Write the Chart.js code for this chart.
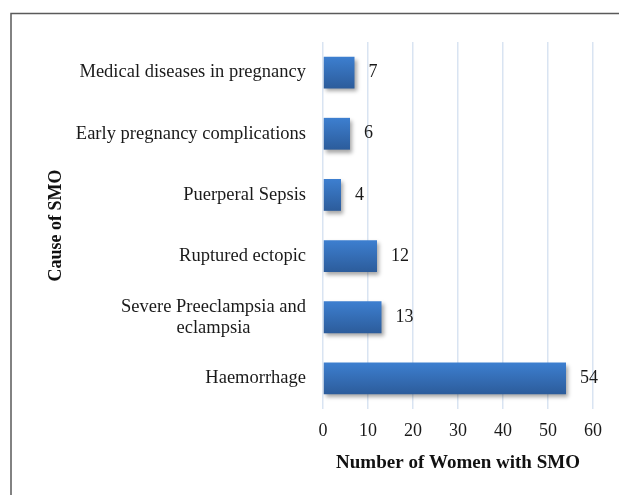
<!DOCTYPE html>
<html>
<head>
<meta charset="utf-8">
<script src="https://cdn.jsdelivr.net/npm/chart.js@4.4.1/dist/chart.umd.min.js"></script>
<style>
  html, body { margin: 0; padding: 0; background: #ffffff; }
  #wrap { position: relative; width: 619px; height: 495px; }
</style>
</head>
<body>
<div id="wrap"><canvas id="c" width="619" height="495"></canvas></div>
<script>
const categories = [
  ["Medical diseases in pregnancy"],
  ["Early pregnancy complications"],
  ["Puerperal Sepsis"],
  ["Ruptured ectopic"],
  ["Severe Preeclampsia and", "eclampsia"],
  ["Haemorrhage"]
];
const womenWithSMO = [7, 6, 4, 12, 13, 54];
const xTicks = [0, 10, 20, 30, 40, 50, 60];
const xTitle = "Number of Women with SMO";
const yTitle = "Cause of SMO";

const FONT = "'Liberation Serif', 'Times New Roman', serif";
const BAR_PCT = 0.52;

const framePlugin = {
  id: 'frame',
  beforeDraw(chart) {
    const ctx = chart.ctx;
    ctx.save();
    ctx.strokeStyle = '#5a5a5a';
    ctx.lineWidth = 1.5;
    ctx.beginPath();
    ctx.moveTo(11, 495);
    ctx.lineTo(11, 13.5);
    ctx.lineTo(619, 13.5);
    ctx.stroke();
    ctx.restore();
  }
};

const shadowPlugin = {
  id: 'barShadow',
  beforeDatasetsDraw(chart) {
    const ctx = chart.ctx;
    ctx.save();
    ctx.shadowColor = 'rgba(0,0,0,0.35)';
    ctx.shadowBlur = 4;
    ctx.shadowOffsetX = 2;
    ctx.shadowOffsetY = 3;
  },
  afterDatasetsDraw(chart) {
    chart.ctx.restore();
  }
};

const labelsPlugin = {
  id: 'customLabels',
  afterDatasetsDraw(chart) {
    const ctx = chart.ctx;
    const yScale = chart.scales.y;
    const meta = chart.getDatasetMeta(0);
    ctx.save();
    ctx.fillStyle = '#1a1a1a';
    ctx.textBaseline = 'middle';
    ctx.font = "18px " + FONT;
    meta.data.forEach((bar, i) => {
      ctx.textAlign = 'left';
      ctx.fillText(String(womenWithSMO[i]), bar.x + 14, bar.y);
    });
    ctx.font = "18.5px " + FONT;
    const rightEdge = chart.chartArea.left - 17;
    const lh = 21;
    categories.forEach((lines, i) => {
      const cy = yScale.getPixelForValue(i);
      if (lines.length === 1) {
        ctx.textAlign = 'right';
        ctx.fillText(lines[0], rightEdge, cy);
      } else {
        const widths = lines.map(l => ctx.measureText(l).width);
        const maxW = Math.max(...widths);
        const cx = rightEdge - maxW / 2;
        ctx.textAlign = 'center';
        const startY = cy - (lines.length - 1) * lh / 2;
        lines.forEach((l, k) => ctx.fillText(l, cx, startY + k * lh));
      }
    });
    ctx.restore();
  }
};

new Chart(document.getElementById('c'), {
  type: 'bar',
  data: {
    labels: categories.map(c => c.join(' ')),
    datasets: [{
      data: womenWithSMO,
      backgroundColor(context) {
        const chart = context.chart;
        const ys = chart.scales && chart.scales.y;
        if (!ys || !chart.chartArea || context.dataIndex === undefined) return '#3a73bf';
        const cy = ys.getPixelForValue(context.dataIndex);
        const h = (ys.height / categories.length) * BAR_PCT;
        if (!isFinite(cy) || !isFinite(h) || h <= 0) return '#3a73bf';
        const g = chart.ctx.createLinearGradient(0, cy - h / 2, 0, cy + h / 2);
        g.addColorStop(0, '#3d7fd0');
        g.addColorStop(1, '#2c5c9b');
        return g;
      },
      borderWidth: 0,
      categoryPercentage: 1.0,
      barPercentage: BAR_PCT
    }]
  },
  options: {
    indexAxis: 'y',
    responsive: false,
    animation: false,
    devicePixelRatio: 1,
    layout: { padding: { top: 42, right: 26, left: 0, bottom: 0 } },
    plugins: {
      legend: { display: false },
      tooltip: { enabled: false }
    },
    scales: {
      x: {
        min: 0, max: 60,
        afterBuildTicks(scale) { scale.ticks = xTicks.map(v => ({ value: v })); },
        grid: { color: '#d9e4f2', lineWidth: 1.5, drawTicks: false },
        border: { display: false },
        ticks: { color: '#1a1a1a', font: { family: FONT, size: 18 }, padding: 11 },
        title: {
          display: true, text: xTitle, color: '#111',
          font: { family: FONT, size: 19, weight: 'bold' },
          padding: { top: 0, bottom: 21 }
        },
        afterFit(scale) { scale.height = 86; }
      },
      y: {
        grid: { display: false, drawTicks: false },
        border: { display: false },
        ticks: { display: false },
        title: {
          display: true, text: yTitle, color: '#111',
          font: { family: FONT, size: 18, weight: 'bold' },
          padding: { top: 46, bottom: 0 }
        },
        afterFit(scale) { scale.width = 323; }
      }
    }
  },
  plugins: [framePlugin, shadowPlugin, labelsPlugin]
});
</script>
</body>
</html>
